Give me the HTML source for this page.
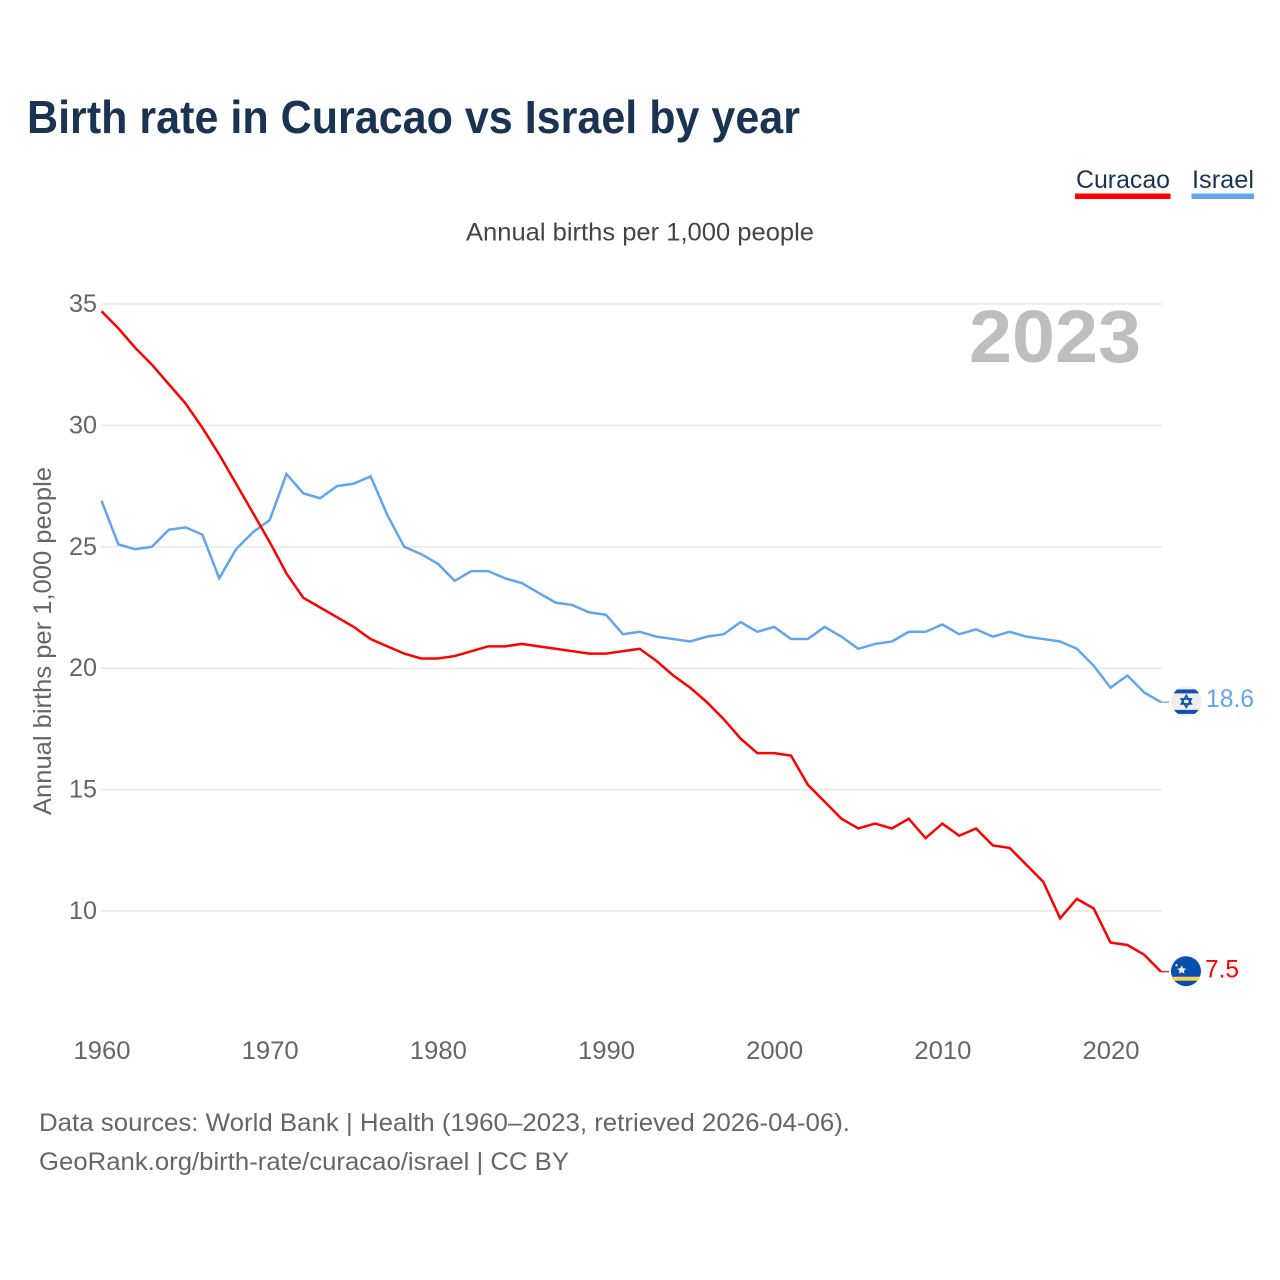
<!DOCTYPE html>
<html lang="en">
<head>
<meta charset="utf-8">
<title>Birth rate in Curacao vs Israel by year</title>
<style>
html,body{margin:0;padding:0;background:#fff;}
svg{display:block;font-family:"Liberation Sans",sans-serif;}
</style>
</head>
<body>
<svg id="chart" xmlns="http://www.w3.org/2000/svg" width="1280" height="1280" viewBox="0 0 1280 1280">
  <rect x="0" y="0" width="1280" height="1280" fill="#fff"/>
  <text x="27" y="133" font-size="46" font-weight="700" fill="#1a3353" textLength="773" lengthAdjust="spacingAndGlyphs">Birth rate in Curacao vs Israel by year</text>

  <g>
    <text x="1076" y="188" font-size="25" fill="#1a3353" textLength="94" lengthAdjust="spacingAndGlyphs">Curacao</text>
    <rect x="1075" y="193.5" width="95.500" height="5.500" fill="#ff0000"/>
  </g>
  <g>
    <text x="1192" y="188" font-size="25" fill="#1a3353" textLength="62" lengthAdjust="spacingAndGlyphs">Israel</text>
    <rect x="1191.500" y="193.5" width="62.500" height="5.500" fill="#61a5ed"/>
  </g>

  <text x="466" y="240.5" font-size="25" fill="#444" textLength="348" lengthAdjust="spacingAndGlyphs">Annual births per 1,000 people</text>
  <text transform="translate(51,815) rotate(-90)" x="0" y="0" font-size="25" fill="#666" textLength="348" lengthAdjust="spacingAndGlyphs">Annual births per 1,000 people</text>

  <g id="grid"></g>
  <g id="y-ticks"></g>
  <g id="x-ticks"></g>

  <text x="969" y="362" font-size="74" font-weight="700" fill="#bebebe" textLength="172" lengthAdjust="spacingAndGlyphs">2023</text>

  <g id="series"></g>

  <g id="flag-israel">
    <defs><clipPath id="clip-il"><circle cx="0" cy="0" r="15"/></clipPath><clipPath id="clip-cw"><circle cx="0" cy="0" r="15"/></clipPath></defs>
    <circle cx="0" cy="0" r="15" fill="#eeeeee"/>
    <g clip-path="url(#clip-il)">
      <rect x="-15" y="-12" width="30" height="4" fill="#0f50b0"/>
      <rect x="-15" y="8.500" width="30" height="4" fill="#0f50b0"/>
    </g>
    <path d="M0-6L5 2.500H-5ZM0 6L-5-2.500H5Z" fill="none" stroke="#0f50b0" stroke-width="1.600"/>
  </g>
  <g id="flag-curacao">
    <circle cx="0" cy="0" r="15" fill="#0a4fae"/>
    <g clip-path="url(#clip-cw)">
      <rect x="-15" y="5.500" width="30" height="4" fill="#fbd24e"/>
    </g>
    <path d="M-5-4.500L-3.500-1.500L-.5-1L-2.800 1L-2.200 4L-5 2.500L-7.800 4L-7.200 1L-9.500-1L-6.500-1.500Z" transform="translate(0.700,-1.500)" fill="#e8e8e8"/>
    <circle cx="-9.500" cy="-6" r="1.200" fill="#e8e8e8"/>
  </g>

  <text id="end-label-israel" x="1206" y="707" font-size="25" fill="#61a5ed" textLength="48" lengthAdjust="spacingAndGlyphs"></text>
  <text id="end-label-curacao" x="1205" y="978" font-size="25" fill="#ff0000" textLength="34" lengthAdjust="spacingAndGlyphs"></text>

  <text x="39" y="1131" font-size="25" fill="#666" textLength="811" lengthAdjust="spacingAndGlyphs">Data sources: World Bank | Health (1960–2023, retrieved 2026-04-06).</text>
  <text x="39" y="1170" font-size="25" fill="#666" textLength="530" lengthAdjust="spacingAndGlyphs">GeoRank.org/birth-rate/curacao/israel | CC BY</text>
</svg>
<script>
const startYear = 1960;
const yTickValues = [35, 30, 25, 20, 15, 10];
const xTickValues = [1960, 1970, 1980, 1990, 2000, 2010, 2020];
const curacaoValues = [34.7,34.0,33.2,32.5,31.7,30.9,29.9,28.8,27.6,26.4,25.2,23.9,22.9,22.5,22.1,21.7,21.2,20.9,20.6,20.4,20.4,20.5,20.7,20.9,20.9,21.0,20.9,20.8,20.7,20.6,20.6,20.7,20.8,20.3,19.7,19.2,18.6,17.9,17.1,16.5,16.5,16.4,15.2,14.5,13.8,13.4,13.6,13.4,13.8,13.0,13.6,13.1,13.4,12.7,12.6,11.9,11.2,9.7,10.5,10.1,8.7,8.6,8.2,7.5];
const israelValues = [26.9,25.1,24.9,25.0,25.7,25.8,25.5,23.7,24.9,25.6,26.1,28.0,27.2,27.0,27.5,27.6,27.9,26.3,25.0,24.7,24.3,23.6,24.0,24.0,23.7,23.5,23.1,22.7,22.6,22.3,22.2,21.4,21.5,21.3,21.2,21.1,21.3,21.4,21.9,21.5,21.7,21.2,21.2,21.7,21.3,20.8,21.0,21.1,21.5,21.5,21.8,21.4,21.6,21.3,21.5,21.3,21.2,21.1,20.8,20.1,19.2,19.7,19.0,18.6];

const NS = 'http://www.w3.org/2000/svg';
const xScale = function (year) { return 101.5 + (year - 1960) * (1161 - 101.5) / 63; };
const yScale = function (v) { return 911 - (v - 10) * (911 - 304) / 25; };

const gridGroup = document.getElementById('grid');
const yTickGroup = document.getElementById('y-ticks');
const xTickGroup = document.getElementById('x-ticks');
const seriesGroup = document.getElementById('series');

yTickValues.forEach(function (v) {
  const line = document.createElementNS(NS, 'line');
  
  
  line.setAttribute('x1', 101);
  line.setAttribute('x2', 1162);
  line.setAttribute('y1', yScale(v));
  line.setAttribute('y2', yScale(v));
  line.setAttribute('stroke', '#e9e9e9');
  line.setAttribute('stroke-width', '1.500');
  gridGroup.appendChild(line);

  const label = document.createElementNS(NS, 'text');
  
  
  label.setAttribute('x', 97);
  label.setAttribute('y', yScale(v) + 8);
  label.setAttribute('text-anchor', 'end');
  label.setAttribute('font-size', '25');
  label.setAttribute('fill', '#666');
  label.setAttribute('textLength', '28');
  label.setAttribute('lengthAdjust', 'spacingAndGlyphs');
  label.textContent = String(v);
  yTickGroup.appendChild(label);
});

xTickValues.forEach(function (year) {
  const label = document.createElementNS(NS, 'text');
  
  
  label.setAttribute('x', xScale(year) - 28);
  label.setAttribute('y', 1059);
  label.setAttribute('font-size', '25');
  label.setAttribute('fill', '#666');
  label.setAttribute('textLength', '57');
  label.setAttribute('lengthAdjust', 'spacingAndGlyphs');
  label.textContent = String(year);
  xTickGroup.appendChild(label);
});

function linePoints(values) {
  return values.map(function (v, i) {
    return xScale(startYear + i).toFixed(2) + ',' + yScale(v).toFixed(2);
  }).join(' ');
}

const israelLine = document.createElementNS(NS, 'polyline');


israelLine.setAttribute('points', linePoints(israelValues));
israelLine.setAttribute('fill', 'none');
israelLine.setAttribute('stroke', '#61a5ed');
israelLine.setAttribute('stroke-width', '2.500');
seriesGroup.appendChild(israelLine);

const curacaoLine = document.createElementNS(NS, 'polyline');


curacaoLine.setAttribute('points', linePoints(curacaoValues));
curacaoLine.setAttribute('fill', 'none');
curacaoLine.setAttribute('stroke', '#ff0000');
curacaoLine.setAttribute('stroke-width', '2.500');
seriesGroup.appendChild(curacaoLine);

const lastIsrael = israelValues[israelValues.length - 1];
const lastCuracao = curacaoValues[curacaoValues.length - 1];
const lastX = xScale(startYear + israelValues.length - 1);

const israelLeader = document.createElementNS(NS, 'line');


israelLeader.setAttribute('x1', lastX);
israelLeader.setAttribute('x2', lastX + 8);
israelLeader.setAttribute('y1', yScale(lastIsrael));
israelLeader.setAttribute('y2', yScale(lastIsrael));
israelLeader.setAttribute('stroke', '#61a5ed');
israelLeader.setAttribute('stroke-width', '1.200');
seriesGroup.appendChild(israelLeader);

const curacaoLeader = document.createElementNS(NS, 'line');


curacaoLeader.setAttribute('x1', lastX);
curacaoLeader.setAttribute('x2', lastX + 8);
curacaoLeader.setAttribute('y1', yScale(lastCuracao));
curacaoLeader.setAttribute('y2', yScale(lastCuracao));
curacaoLeader.setAttribute('stroke', '#ff0000');
curacaoLeader.setAttribute('stroke-width', '1.200');
seriesGroup.appendChild(curacaoLeader);

document.getElementById('flag-israel').setAttribute('transform', 'translate(1186.300,' + (yScale(lastIsrael) - 0.800) + ')');
document.getElementById('flag-curacao').setAttribute('transform', 'translate(1186,' + (yScale(lastCuracao) - 0.500) + ')');

const israelEnd = document.getElementById('end-label-israel');
israelEnd.setAttribute('y', yScale(lastIsrael) + 5);
israelEnd.textContent = lastIsrael.toFixed(1);
const curacaoEnd = document.getElementById('end-label-curacao');
curacaoEnd.setAttribute('y', yScale(lastCuracao) + 6);
curacaoEnd.textContent = lastCuracao.toFixed(1);
</script>
</body>
</html>
